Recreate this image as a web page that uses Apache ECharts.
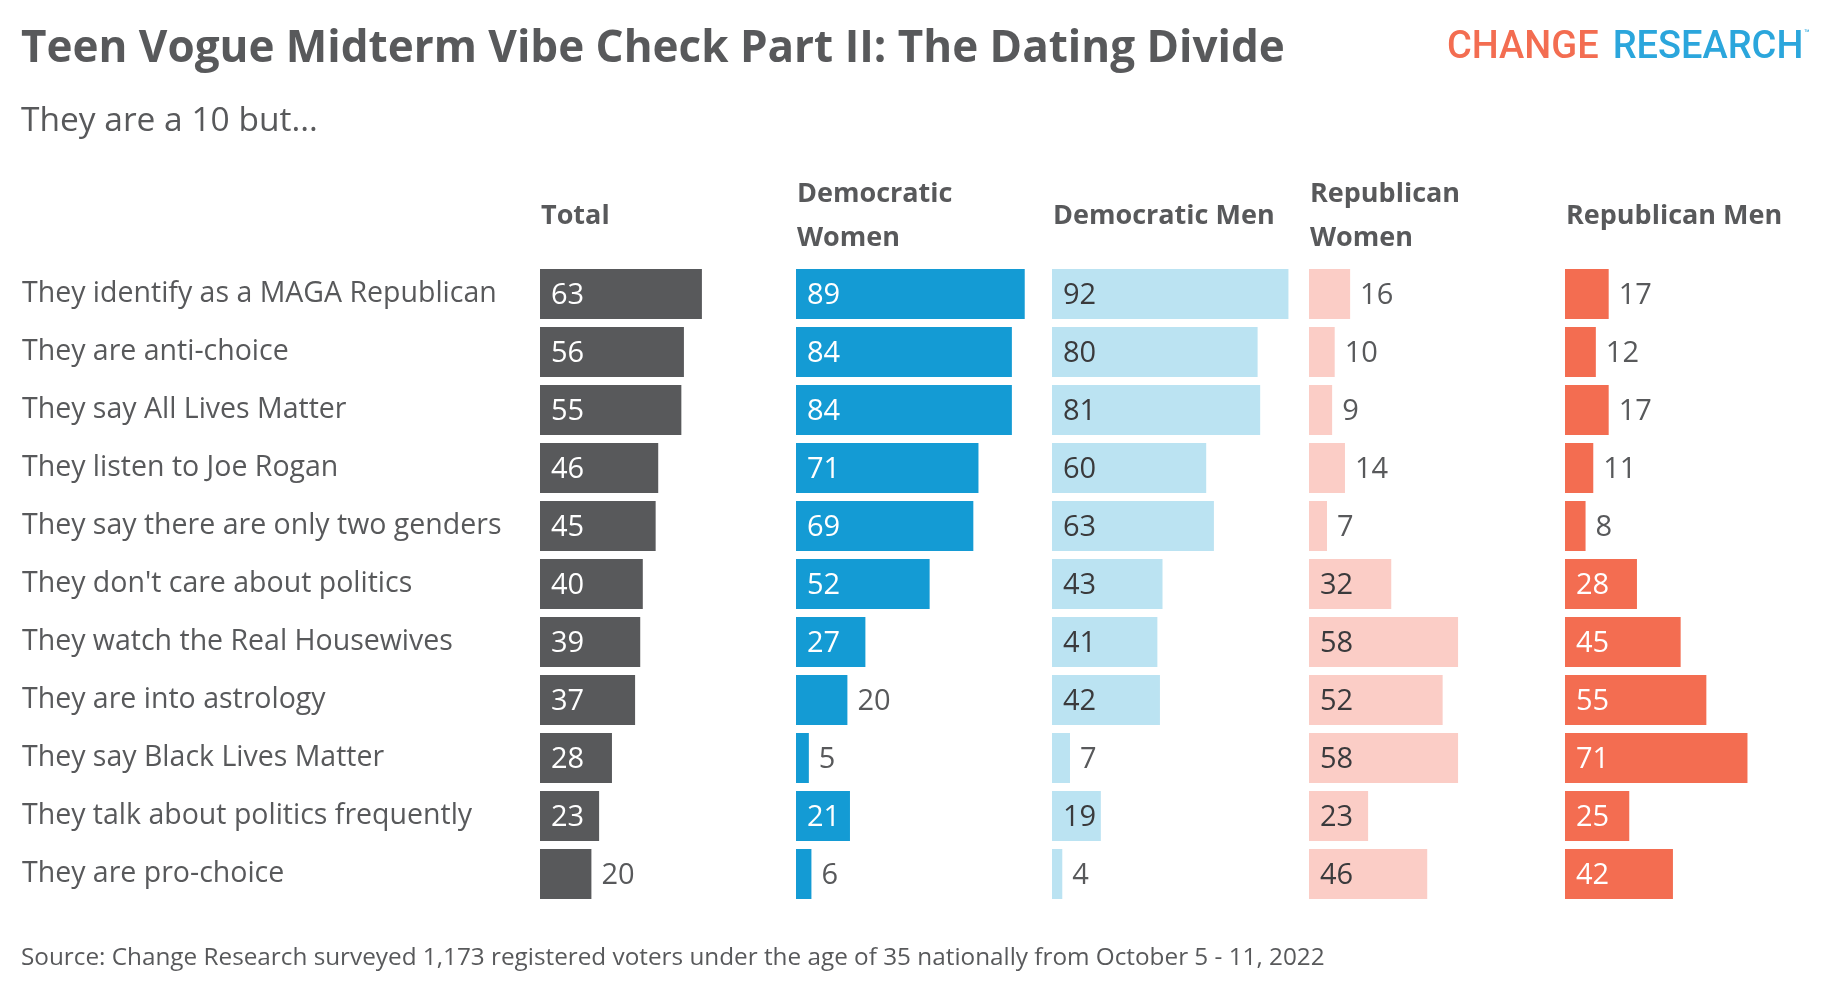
<!DOCTYPE html>
<html><head><meta charset="utf-8">
<script src="https://cdn.jsdelivr.net/npm/echarts@6/dist/echarts.min.js"></script>
<style>html,body{margin:0;padding:0;background:#fff}#c{width:1832px;height:996px}</style>
</head><body><div id="c"></div>
<script>
const categories = [
  'They identify as a MAGA Republican',
  'They are anti-choice',
  'They say All Lives Matter',
  'They listen to Joe Rogan',
  'They say there are only two genders',
  "They don't care about politics",
  'They watch the Real Housewives',
  'They are into astrology',
  'They say Black Lives Matter',
  'They talk about politics frequently',
  'They are pro-choice'
];
const groupNames = ['Total', 'Democratic\nWomen', 'Democratic Men', 'Republican\nWomen', 'Republican Men'];
const total    = [63, 56, 55, 46, 45, 40, 39, 37, 28, 23, 20];
const demWomen = [89, 84, 84, 71, 69, 52, 27, 20, 5, 21, 6];
const demMen   = [92, 80, 81, 60, 63, 43, 41, 42, 7, 19, 4];
const repWomen = [16, 10, 9, 14, 7, 32, 58, 52, 58, 23, 46];
const repMen   = [17, 12, 17, 11, 8, 28, 45, 55, 71, 25, 42];

const FONT = '"Open Sans", Lato, sans-serif';
const GRAY = '#58595b';
const groups = [
  {data: total,    color: '#58595b', inText: '#ffffff', min: 21},
  {data: demWomen, color: '#149bd4', inText: '#ffffff', min: 21},
  {data: demMen,   color: '#bbe3f2', inText: '#3a3a3c', min: 19},
  {data: repWomen, color: '#fbcdc6', inText: '#3a3a3c', min: 19},
  {data: repMen,   color: '#f36d51', inText: '#ffffff', min: 21}
];
const lefts = [540, 796, 1052, 1309, 1565];
const gridW = 257;
const gridTop = 265, gridH = 638;

const grids = [], xAxes = [], yAxes = [], series = [];
groups.forEach((g, i) => {
  grids.push({left: lefts[i], top: gridTop, width: gridW, height: gridH, containLabel: false});
  xAxes.push({gridIndex: i, type: 'value', min: 0, max: 100, show: false});
  yAxes.push({
    gridIndex: i, type: 'category', data: categories, inverse: true,
    axisLine: {show: false}, axisTick: {show: false}, splitLine: {show: false},
    axisLabel: i === 0 ? {show: true, align: 'left', margin: lefts[0] - 22, color: GRAY, fontSize: 28.5, fontFamily: FONT, padding: [10, 0, 0, 0]} : {show: false}
  });
  series.push({
    type: 'bar', xAxisIndex: i, yAxisIndex: i, barWidth: 50,
    itemStyle: {color: g.color},
    data: g.data.map(v => ({
      value: v,
      label: v >= g.min
        ? {show: true, position: 'insideLeft', distance: 11, offset: [0, 2], color: g.inText, fontSize: 29, fontFamily: FONT}
        : {show: true, position: 'right', distance: 10, offset: [0, 2], color: GRAY, fontSize: 29, fontFamily: FONT}
    })),
    animation: false
  });
});

const headerEls = groupNames.map((n, i) => ({
  type: 'text', x: lefts[i] + 1, y: 216,
  style: {text: n, fill: GRAY, font: 'bold 27px ' + FONT, lineHeight: 44, align: 'left', verticalAlign: 'middle'}
}));

const chart = echarts.init(document.getElementById('c'), null, {renderer: 'canvas'});
chart.setOption({
  animation: false,
  backgroundColor: '#ffffff',
  grid: grids, xAxis: xAxes, yAxis: yAxes, series: series,
  graphic: [
    {type: 'text', x: 21, y: 49, style: {text: 'Teen Vogue Midterm Vibe Check Part II: The Dating Divide', fill: GRAY, font: 'bold 44px ' + FONT, verticalAlign: 'middle'}},
    {type: 'text', x: 21, y: 121, style: {text: 'They are a 10 but...', fill: GRAY, font: '33.5px ' + FONT, verticalAlign: 'middle'}},
    {type: 'text', x: 1810, y: 48, style: {
      text: '{a|CHANGE}{b|RESEARCH}{c|™}', align: 'right', verticalAlign: 'middle',
      rich: {
        a: {fill: '#f36d51', font: '500 38px Roboto', padding: [0, 14, 0, 0]},
        b: {fill: '#2ba6dc', font: '500 38px Roboto'},
        c: {fill: '#2ba6dc', font: '9px Roboto', verticalAlign: 'top', padding: [0, 0, 22, 1]}
      }
    }},
    {type: 'text', x: 21, y: 958, style: {text: 'Source: Change Research surveyed 1,173 registered voters under the age of 35 nationally from October 5 - 11, 2022', fill: GRAY, font: '24.3px ' + FONT, verticalAlign: 'middle'}}
  ].concat(headerEls)
});
</script></body></html>
